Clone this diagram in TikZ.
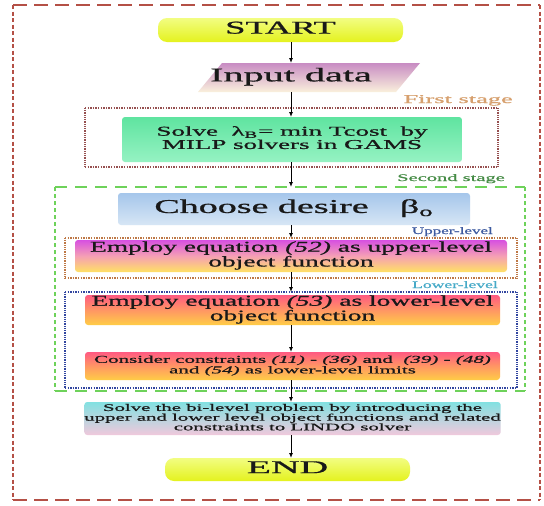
\documentclass[tikz,border=0pt]{standalone}
\usepackage{fontspec}
\setmainfont{Liberation Serif}[FakeBold=0.7]
\usepackage{graphicx}
\usetikzlibrary{arrows.meta}
\definecolor{txt}{RGB}{25,25,25}
\definecolor{redfr}{RGB}{180,80,70}
\definecolor{grnfr}{RGB}{110,210,90}
\definecolor{s1fr}{RGB}{150,80,80}
\definecolor{upfr}{RGB}{190,120,70}
\definecolor{lofr}{RGB}{50,70,160}
\definecolor{lbfirst}{RGB}{215,160,110}
\definecolor{lbsecond}{RGB}{70,140,70}
\definecolor{lbupper}{RGB}{60,90,160}
\definecolor{lblower}{RGB}{70,170,200}
\newcommand\sxt[2]{\scalebox{#1}[1]{\begin{tabular}{@{}c@{}}#2\end{tabular}}}
\newcommand\frameedges[3]{%
  \draw[#2] (#1.north west) -- (#1.north east);
  \draw[#2] (#1.south west) -- (#1.south east);
  \draw[#3] (#1.north west) -- (#1.south west);
  \draw[#3] (#1.north east) -- (#1.south east);}
\begin{document}
\begin{tikzpicture}[x=1pt,y=-1pt,
  frm/.style={draw=none,inner sep=0pt,outer sep=0pt},
  box/.style={draw=none,rounded corners=3pt,inner sep=0pt,outer sep=0pt,text=txt},
  yel/.style={box,rounded corners=9pt,top color=yelA,bottom color=yelB},
  arr/.style={-{Latex[length=5pt,width=4pt]},line width=0.9pt,black},
  lbl/.style={inner sep=0pt,anchor=base east,font=\fontsize{10}{10}\selectfont}]
\definecolor{yelA}{RGB}{242,253,130}
\definecolor{yelB}{RGB}{228,242,30}
\useasboundingbox (0,0) rectangle (544,506);
\fill[white] (0,0) rectangle (544,506);
\coordinate (ax) at (291,0);

% frames
\node[frm,minimum width=527,minimum height=495] (outer) at (276.5,252.5) {};
\node[frm,minimum width=413,minimum height=59] (s1) at (291.5,137.5) {};
\node[frm,minimum width=470,minimum height=204] (s2) at (290,289) {};
\node[frm,minimum width=452,minimum height=40] (up) at (291,258) {};
\node[frm,minimum width=452,minimum height=96] (lo) at (291,340) {};

\frameedges{outer}{redfr,line width=1.6pt,dash pattern=on 14pt off 7pt}{redfr,line width=2pt,dash pattern=on 4pt off 2.5pt}
\frameedges{s1}{s1fr,line width=1.1pt,dash pattern=on 1.3pt off 1.3pt}{s1fr,line width=1.2pt,dash pattern=on 1pt off 0.8pt}
\frameedges{s2}{grnfr,line width=2.2pt,dash pattern=on 12pt off 8pt}{grnfr,line width=2.4pt,dash pattern=on 4pt off 3pt}
\frameedges{up}{upfr,line width=1.1pt,dash pattern=on 1.3pt off 1.3pt}{upfr,line width=1.2pt,dash pattern=on 1pt off 0.8pt}
\frameedges{lo}{lofr,line width=1.1pt,dash pattern=on 1.3pt off 1.3pt}{lofr,line width=1.2pt,dash pattern=on 1pt off 0.8pt}

% labels
\node[lbl,text=lbfirst,font=\fontsize{12}{12}\selectfont] (lfirst) at (513,103) {\scalebox{2.2}[1]{First stage}};
\node[lbl,text=lbsecond] (lsecond) at (505,181) {\scalebox{2.05}[1]{Second stage}};
\node[lbl,text=lbupper] (lupper) at (493,234) {\scalebox{1.7}[1]{Upper-level}};
\node[lbl,text=lblower] (llower) at (498,288) {\scalebox{1.76}[1]{Lower-level}};

% boxes
\node[yel,minimum width=245,minimum height=24,font=\fontsize{18}{18}\selectfont] (start) at (280.5,30) {\sxt{2.03}{START}};

\shade[top color={rgb,255:red,200;green,140;blue,195},bottom color={rgb,255:red,250;green,240;blue,220}]
  (222,63) -- (420,63) -- (396,92) -- (198,92) -- cycle;
\node[box,minimum width=200,minimum height=29,font=\fontsize{19.5}{19.5}\selectfont] (input) at (291,77.5) {\sxt{2.06}{Input data}};

\node[box,minimum width=340,minimum height=45,
  top color={rgb,255:red,95;green,228;blue,160},bottom color={rgb,255:red,150;green,242;blue,195},
  font=\fontsize{13.5}{13}\selectfont] (solve1) at (292,139.5)
  {\sxt{2.0}{Solve \ λ\textsubscript{B}= min Tcost \ by\\MILP solvers in GAMS}};

\node[box,minimum width=352,minimum height=32,
  top color={rgb,255:red,165;green,198;blue,235},bottom color={rgb,255:red,215;green,230;blue,245},
  font=\fontsize{19.5}{19.5}\selectfont] (choose) at (294,209)
  {\sxt{1.95}{Choose desire\hspace{16pt}β\textsubscript{o}\hspace{12pt}}};

\node[box,minimum width=432,minimum height=32,
  top color={rgb,255:red,215;green,80;blue,225},bottom color={rgb,255:red,255;green,225;blue,100},
  middle color={rgb,255:red,245;green,160;blue,180},
  font=\fontsize{15}{14}\selectfont] (e52) at (291,256)
  {\sxt{1.83}{Employ equation \textit{(52)} as upper-level\\object function}};

\node[box,minimum width=415,minimum height=30,
  top color={rgb,255:red,255;green,90;blue,130},bottom color={rgb,255:red,255;green,205;blue,70},
  middle color={rgb,255:red,255;green,150;blue,100},
  font=\fontsize{15}{14}\selectfont] (e53) at (292.5,310)
  {\sxt{1.83}{Employ equation \textit{(53)} as lower-level\\object function}};

\node[box,minimum width=415,minimum height=28,
  top color={rgb,255:red,255;green,90;blue,130},bottom color={rgb,255:red,255;green,205;blue,70},
  middle color={rgb,255:red,255;green,150;blue,100},
  font=\fontsize{10.5}{10.5}\selectfont] (cons) at (292.5,366)
  {\sxt{2.0}{Consider constraints \textit{(11)} - \textit{(36)} and \ \textit{(39)} - \textit{(48)}\\and \textit{(54)} as lower-level limits}};

\node[box,minimum width=415,minimum height=33,
  top color={rgb,255:red,130;green,225;blue,225},bottom color={rgb,255:red,240;green,200;blue,220},
  font=\fontsize{10}{9}\selectfont] (solve2) at (292.5,418.5)
  {\sxt{2.08}{Solve the bi-level problem by introducing the\\upper and lower level object functions and related\\constraints to LINDO solver}};

\node[yel,minimum width=245,minimum height=23,font=\fontsize{18}{18}\selectfont] (end) at (287.5,469.5) {\sxt{2.2}{END}};

% connectors
\draw[arr] (start.south -| ax) -- (input.north -| ax);
\draw[arr] (input.south -| ax) -- (solve1.north -| ax);
\draw[arr] (solve1.south -| ax) -- (s2.north -| ax);
\draw[arr] (choose.south -| ax) -- (up.north -| ax);
\draw[arr] (e52.south -| ax) -- (lo.north -| ax);
\draw[arr] (e53.south -| ax) -- (cons.north -| ax);
\draw[arr] (cons.south -| ax) -- (solve2.north -| ax);
\draw[arr] (solve2.south -| ax) -- (end.north -| ax);
\end{tikzpicture}
\end{document}
